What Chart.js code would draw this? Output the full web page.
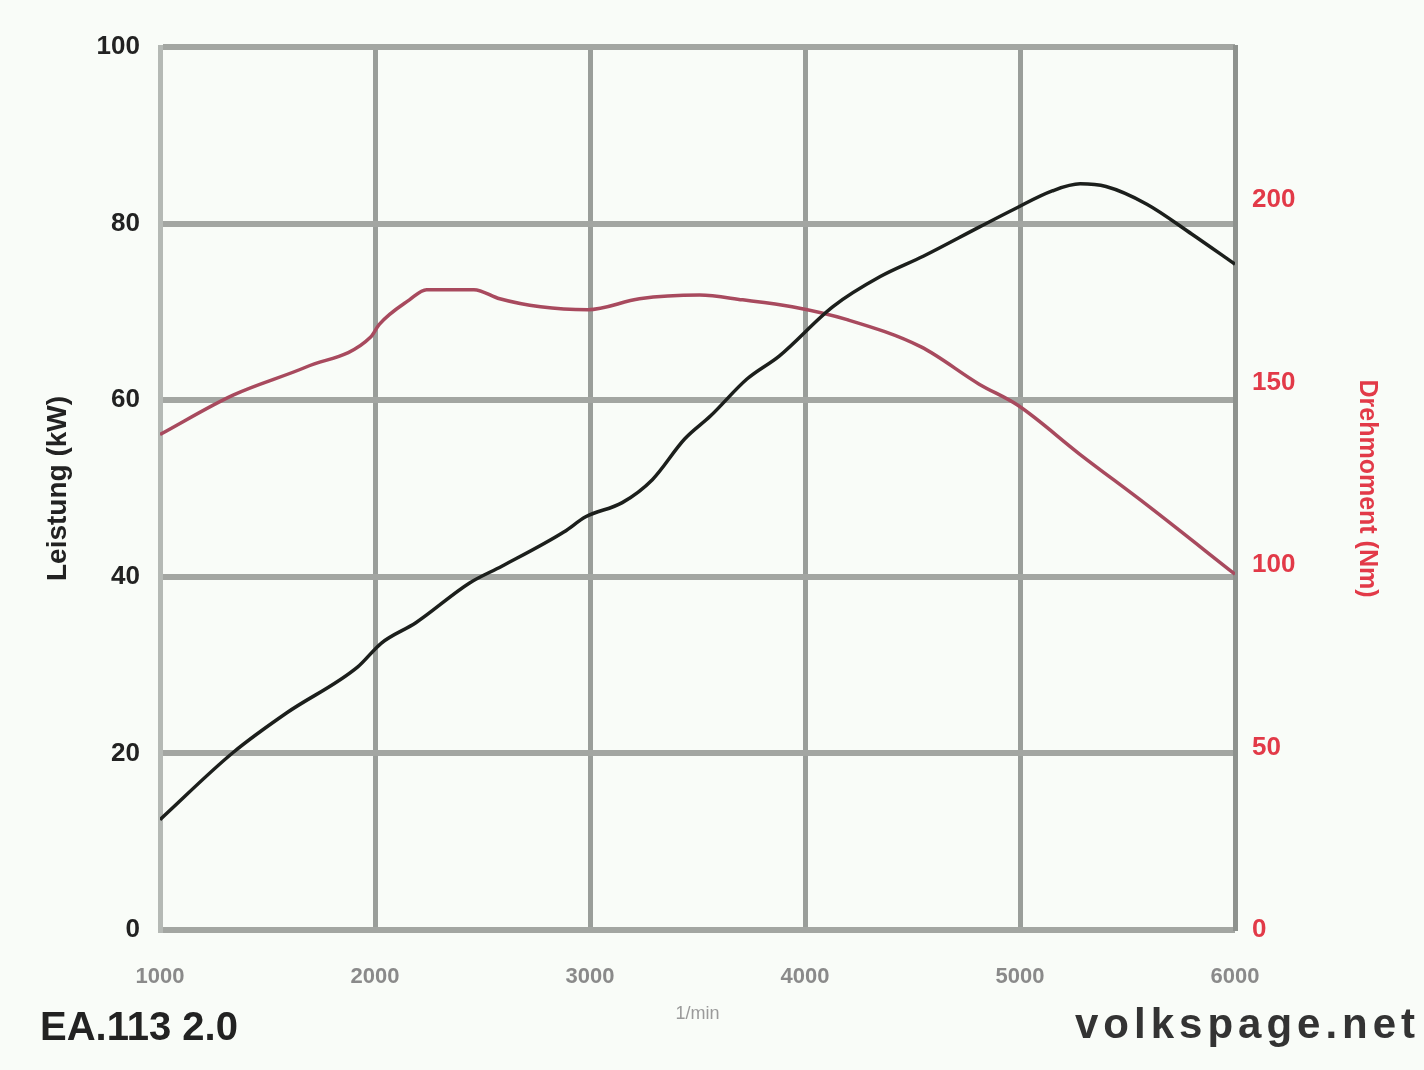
<!DOCTYPE html>
<html>
<head>
<meta charset="utf-8">
<script src="https://cdn.jsdelivr.net/npm/chart.js@4.4.1/dist/chart.umd.min.js"></script>
<style>
  html, body { margin: 0; padding: 0; background: #f9fcf8; overflow: hidden; }
  #wrap { position: relative; width: 1424px; height: 1070px; }
  canvas { position: absolute; left: 0; top: 0; }
  .note { position: absolute; font-family: "Liberation Sans", Arial, sans-serif; font-weight: bold; white-space: nowrap; }
  #engine { left: 40px; top: 1004px; font-size: 40px; color: #222; }
  #site { left: 1075px; top: 1000px; font-size: 42px; letter-spacing: 5px; color: #333; }
</style>
</head>
<body>
<div id="wrap">
  <canvas id="myChart" width="1424" height="1070"></canvas>
  <div class="note" id="engine">EA.113 2.0</div>
  <div class="note" id="site">volkspage.net</div>
</div>
<script>
// tick values
const rpmTicks = [1000, 2000, 3000, 4000, 5000, 6000];
const kwTicks = [0, 20, 40, 60, 80, 100];
const nmTicks = [0, 50, 100, 150, 200];

// Leistung (black)
const rpmPower = [1000, 1340, 1590, 1920, 2030, 2190, 2440, 2590, 2880, 2980, 3150, 3290, 3440, 3560, 3730, 3880, 4130, 4350, 4550, 4810, 4970, 5150, 5280, 5400, 5590, 5800, 6000];
const powerKw = [12.5, 20.1, 24.6, 29.8, 32.5, 34.8, 39.3, 41.2, 45.1, 46.8, 48.4, 51, 55.6, 58.2, 62.4, 65, 70.6, 74, 76.3, 79.6, 81.6, 83.7, 84.5, 84.2, 82.2, 78.8, 75.4];

// Drehmoment (red)
const rpmTorque = [1000, 1340, 1680, 1980, 2020, 2160, 2240, 2460, 2580, 2770, 2990, 3230, 3510, 3710, 3940, 4200, 4540, 4810, 4990, 5280, 5590, 6000];
const torqueNm = [135.8, 146.6, 154.3, 162.5, 166, 172.7, 175.5, 175.5, 173, 170.8, 170, 173, 174, 172.7, 170.8, 167.2, 159.8, 149.6, 143.8, 130.3, 116.5, 97.5];

const toPoints = (xs, ys) => xs.map((x, i) => ({ x: x, y: ys[i] }));
const fixTicks = list => scale => { scale.ticks = list.map(v => ({ value: v })); };

Chart.defaults.font.family = '"Liberation Sans", Arial, sans-serif';

const ctx = document.getElementById("myChart");
const myChart = new Chart(ctx, {
  type: "line",
  data: {
    datasets: [
      {
        label: "Leistung",
        data: toPoints(rpmPower, powerKw),
        yAxisID: "y",
        borderColor: "#1c1f1c",
        borderWidth: 3.5,
        cubicInterpolationMode: "monotone",
        order: 0
      },
      {
        label: "Drehmoment",
        data: toPoints(rpmTorque, torqueNm),
        yAxisID: "y1",
        borderColor: "#a84a5e",
        borderWidth: 3.5,
        cubicInterpolationMode: "monotone",
        order: 1
      }
    ]
  },
  options: {
    responsive: false,
    animation: false,
    devicePixelRatio: 1,
    layout: { padding: { top: 47, left: 0, right: 0, bottom: 0 } },
    plugins: { legend: { display: false }, tooltip: { enabled: false } },
    elements: { point: { radius: 0 } },
    scales: {
      x: {
        type: "linear",
        min: 1000,
        max: 6000,
        afterBuildTicks: fixTicks(rpmTicks),
        afterFit: s => { s.height = 140; },
        grid: { color: "#9a9e9a", lineWidth: 5, drawTicks: false },
        border: { display: false },
        ticks: {
          padding: 34,
          color: "#8a8a8a",
          font: { size: 22, weight: "bold" },
          callback: v => String(v)
        },
        title: {
          display: true,
          text: "1/min",
          color: "#9a9a9a",
          font: { size: 18 },
          padding: { top: 0, bottom: 45 }
        }
      },
      y: {
        position: "left",
        min: 0,
        max: 100,
        afterBuildTicks: fixTicks(kwTicks),
        afterFit: s => { s.width = 160; },
        grid: { color: "#a3a6a2", lineWidth: 6, drawTicks: false },
        border: { display: true, color: "#b5b9b5", width: 5 },
        ticks: {
          padding: 20,
          color: "#222",
          font: { size: 26, weight: "bold" },
          callback: v => String(v)
        },
        title: {
          display: true,
          text: "Leistung (kW)",
          color: "#222",
          font: { size: 28, weight: "bold" },
          padding: { top: 41, bottom: 0 }
        }
      },
      y1: {
        position: "right",
        min: 0,
        max: 242,
        afterBuildTicks: fixTicks(nmTicks),
        afterFit: s => { s.width = 189; },
        grid: { display: false, drawTicks: false },
        border: { display: true, color: "#8e928e", width: 5 },
        ticks: {
          padding: 17,
          color: "#e23a48",
          font: { size: 26, weight: "bold" },
          callback: v => String(v)
        },
        title: {
          display: true,
          text: "Drehmoment (Nm)",
          color: "#e23a48",
          font: { size: 25, weight: "bold" },
          padding: { top: 42, bottom: 0 }
        }
      }
    }
  }
});
</script>
</body>
</html>
